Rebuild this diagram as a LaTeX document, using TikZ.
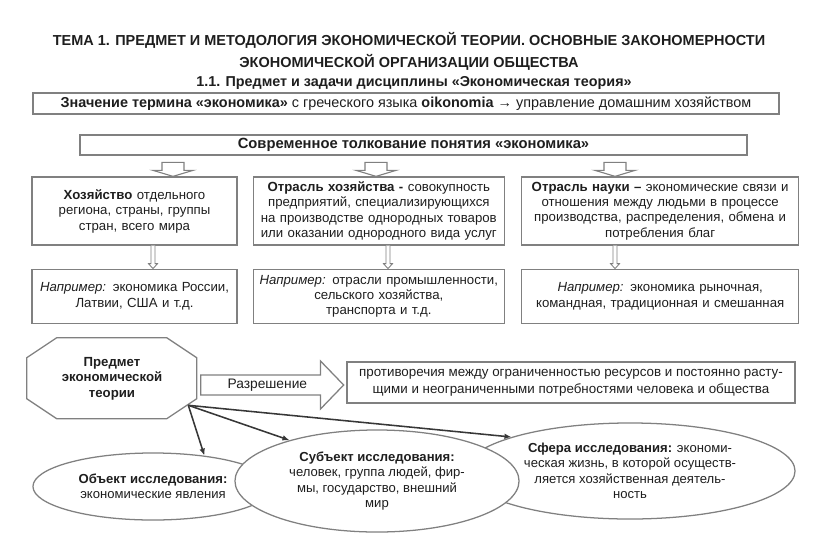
\documentclass[tikz,border=0pt]{standalone}
\usepackage{fontspec}
\setmainfont{Liberation Sans}
\usetikzlibrary{positioning,arrows.meta,shapes.geometric,shapes.arrows}
\definecolor{Frame}{RGB}{128,128,128}
\definecolor{Ink}{RGB}{30,30,30}
\definecolor{Link}{RGB}{55,55,55}

\begin{document}
\begin{tikzpicture}[x=0.025cm,y=-0.025cm,node distance=.375cm,
  headline/.style={align=center,text=Ink,font=\fontsize{10.3}{15.6}\selectfont\bfseries},
  termbox/.style={draw=Frame,line width=.9pt,inner sep=0pt,align=center,text=Ink,font=\fontsize{10.25}{11}\selectfont},
  topicbox/.style={draw=Frame,line width=.9pt,inner sep=0pt,minimum height=1.7cm,align=center,text=Ink,font=\fontsize{9.4}{11}\selectfont},
  examplebox/.style={topicbox,minimum height=1.35cm},
  subjectbox/.style={inner sep=0pt,minimum width=4.25cm,minimum height=2.025cm,align=center,text=Ink,font=\fontsize{9.4}{11}\selectfont\bfseries},
  outline/.style={draw=Frame,line width=.9pt},
  resolvearrow/.style={single arrow,draw=Frame,line width=.9pt,minimum height=3.575cm,minimum width=1.2cm,single arrow head extend=.34cm,single arrow tip angle=92,inner sep=2pt,text=Ink,font=\fontsize{9.8}{11}\selectfont},
  studyellipse/.style={ellipse,draw=Frame,line width=.9pt,fill=white,inner sep=0pt,align=center,text=Ink,font=\fontsize{9.3}{11}\selectfont},
  link/.style={draw=Link,line width=1.1pt,-{Latex[length=5pt,width=4pt]}},
  downblock/.pic={\draw[draw=Frame,line width=.8pt,fill=white] (-11,-14)--(-11,-6)--(-20,-6)--(0,0)--(20,-6)--(11,-6)--(11,-14)--cycle;},
  downthin/.pic={\draw[draw=Frame,line width=.6pt,fill=white] (-2,-23)--(-2,-5)--(-4.5,-5)--(0,0)--(4.5,-5)--(2,-5)--(2,-23);}]
\useasboundingbox (0,0) rectangle (816,534);
% headings
\node[headline] (title) at (409,51) {ТЕМА 1. ПРЕДМЕТ И МЕТОДОЛОГИЯ ЭКОНОМИЧЕСКОЙ ТЕОРИИ. ОСНОВНЫЕ ЗАКОНОМЕРНОСТИ\\ЭКОНОМИЧЕСКОЙ ОРГАНИЗАЦИИ ОБЩЕСТВА};
\node[headline,font=\fontsize{10.2}{12}\selectfont\bfseries] (section) at (414,83) {1.1. Предмет и задачи дисциплины «Экономическая теория»};
\node[termbox,minimum width=18.65cm,minimum height=.525cm] (meaning) at (406,103.5) {\textbf{Значение термина «экономика»} с греческого языка \textbf{oikonomia} → управление домашним хозяйством};
\node[termbox,minimum width=16.675cm,minimum height=.5cm,font=\fontsize{10.5}{11}\selectfont] (modern) at (413.5,145) {\textbf{Современное толкование понятия «экономика»}};
% three meanings
\node[topicbox,text width=5.125cm] (economy) at (134.5,211) {\textbf{Хозяйство} отдельного\\региона, страны, группы\\стран, всего мира};
\node[topicbox,text width=6.275cm,right=of economy] (branch) {\textbf{Отрасль хозяйства -} совокупность\\предприятий, специализирующихся\\на производстве однородных товаров\\или оказании однородного вида услуг};
\node[topicbox,text width=6.925cm,right=.4cm of branch] (science) {\textbf{Отрасль науки –} экономические связи и\\отношения между людьми в процессе\\производства, распределения, обмена и\\потребления благ};
\node[examplebox,text width=5.125cm,below=.575cm of economy] (sample1) {\textit{Например:} экономика России,\\Латвии, США и т.д.};
\node[examplebox,text width=6.275cm,below=.575cm of branch] (sample2) {\textit{Например:} отрасли промышленности,\\сельского хозяйства,\\транспорта и т.д.};
\node[examplebox,text width=6.925cm,below=.575cm of science] (sample3) {\textit{Например:} экономика рыночная,\\командная, традиционная и смешанная};
\pic at (173,0 |- economy.north) {downblock};
\pic at (376,0 |- branch.north) {downblock};
\pic at (615,0 |- science.north) {downblock};
\pic at (153,0 |- sample1.north) {downthin};
\pic at (388,0 |- sample2.north) {downthin};
\pic at (615,0 |- sample3.north) {downthin};
% subject of the theory
\node[subjectbox] (subject) at (112,378.5) {Предмет\\экономической\\теории};
\draw[outline] (subject.north west) ++(30,0) -- ++(110,0) -- ++(30,20) -- ++(0,41) -- ++(-30,20) -- ++(-110,0) -- ++(-30,-20) -- ++(0,-41) -- cycle;
\coordinate (hub) at ([shift={(-9,-14)}]subject.south east);
\node[resolvearrow,anchor=tail] (resolve) at (200,385) {Разрешение};
\node[termbox,minimum width=11.2cm,minimum height=1.025cm,font=\fontsize{9.5}{12}\selectfont] (conflict) at (571,382.5) {противоречия между ограниченностью ресурсов и постоянно расту-\\щими и неограниченными потребностями человека и общества};
\node[studyellipse,minimum width=6cm,minimum height=1.675cm] (object) at (153,486.5) {\textbf{Объект исследования:}\\экономические явления};
\node[studyellipse,minimum width=8.25cm,minimum height=2.4cm] (sphere) at (630,471) {\textbf{Сфера исследования:} экономи-\\ческая жизнь, в которой осуществ-\\ляется хозяйственная деятель-\\ность};
\node[studyellipse,minimum width=7.1cm,minimum height=2.55cm] (actor) at (377,481) {\textbf{Субъект исследования:}\\человек, группа людей, фир-\\мы, государство, внешний\\мир};
\draw[link] (hub) -- (object.31);
\draw[link] (hub) -- (actor.155);
\draw[link] (hub) -- (sphere.164);
\end{tikzpicture}
\end{document}
